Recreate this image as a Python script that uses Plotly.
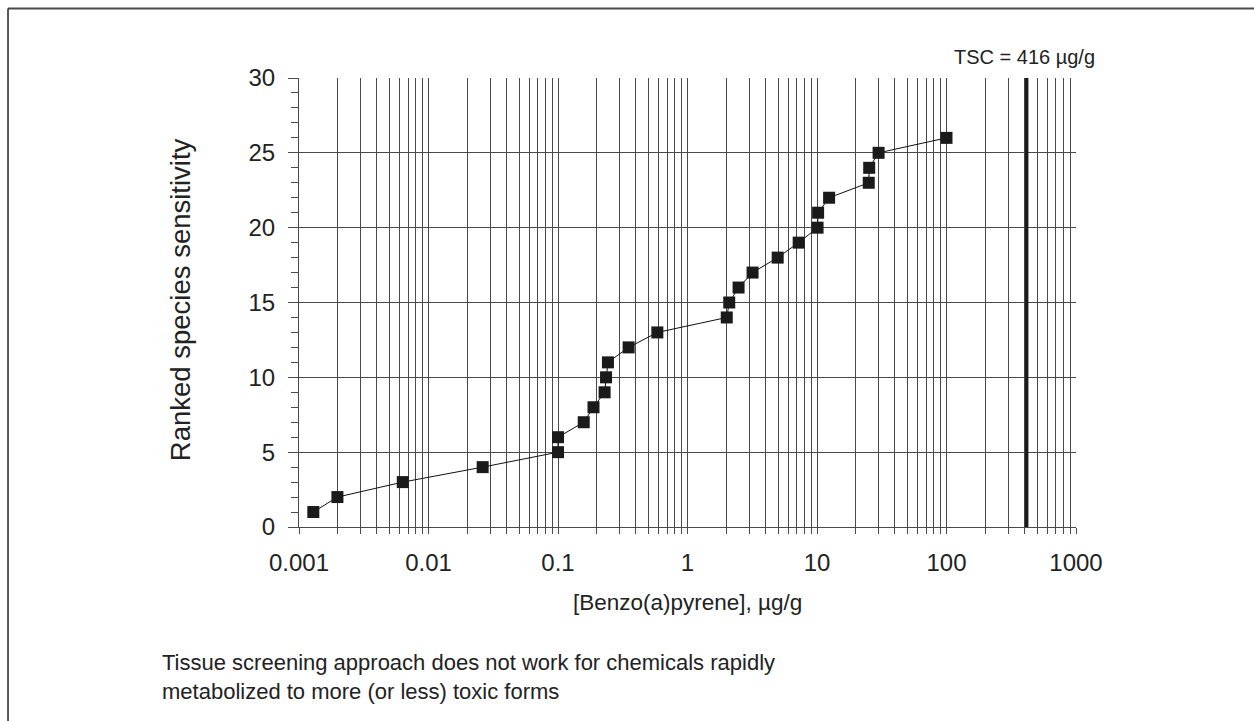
import plotly.graph_objects as go

# Data
concentration = [0.00129, 0.00198, 0.00633, 0.0262, 0.100, 0.100, 0.158, 0.188, 0.229, 0.235,
                 0.243, 0.351, 0.585, 2.01, 2.10, 2.48, 3.18, 4.97, 7.22, 10.1, 10.2, 12.4,
                 25.1, 25.3, 29.9, 100.0]
rank = list(range(1, 27))
tsc_value = 416

decades = [0.001, 0.01, 0.1, 1, 10, 100, 1000]
decade_labels = ["0.001", "0.01", "0.1", "1", "10", "100", "1000"]
multipliers = [1, 2, 3, 4, 5, 6, 7, 8, 9]

tickvals = []
ticktext = []
for d, lab in zip(decades, decade_labels):
    for m in multipliers:
        v = d * m
        if v > 1000.0001:
            continue
        tickvals.append(v)
        ticktext.append(lab if m == 1 else "")

FONT = "Liberation Sans, Arial, sans-serif"
GRID = "#4a4a4a"

fig = go.Figure()
fig.add_trace(go.Scatter(
    x=concentration, y=rank, mode="lines+markers",
    line=dict(color="#111111", width=1),
    marker=dict(symbol="square", size=12, color="#1a1a1a"),
    showlegend=False, hoverinfo="skip"))

fig.add_shape(type="line", xref="x", yref="y", x0=tsc_value, x1=tsc_value, y0=0, y1=30,
              line=dict(color="#1a1a1a", width=3.5))

# Frame lines (top and left)
fig.add_shape(type="line", xref="paper", yref="paper", x0=-0.3745, x1=1.3, y0=1.1548, y1=1.1548,
              line=dict(color="#4a4a4a", width=2))
fig.add_shape(type="line", xref="paper", yref="paper", x0=-0.3745, x1=-0.3745, y0=1.1548, y1=-0.5,
              line=dict(color="#222222", width=1.5))

fig.update_xaxes(type="log", range=[-3, 3], tickmode="array", tickvals=tickvals, ticktext=ticktext,
                 showgrid=True, gridcolor=GRID, gridwidth=1,
                 showline=True, linecolor=GRID, linewidth=1,
                 ticks="outside", ticklen=6, tickcolor=GRID, tickwidth=1, ticklabelstandoff=8,
                 tickfont=dict(family=FONT, size=24, color="#222222"), zeroline=False)
fig.update_yaxes(range=[0, 30], tickmode="linear", tick0=0, dtick=5,
                 showgrid=True, gridcolor=GRID, gridwidth=1,
                 showline=True, linecolor=GRID, linewidth=1,
                 ticks="outside", ticklen=10, tickcolor=GRID, tickwidth=1, ticklabelstandoff=8,
                 minor=dict(dtick=1, ticks="outside", ticklen=7, tickcolor=GRID, showgrid=False),
                 tickfont=dict(family=FONT, size=24, color="#222222"), zeroline=False)

annotations = [
    dict(text="TSC = 416 \u00b5g/g", x=0.934, y=1.0468, font=dict(size=20)),
    dict(text="[Benzo(a)pyrene], \u00b5g/g", x=0.5, y=-0.169, font=dict(size=22.5)),
    dict(text="Ranked species sensitivity", x=-0.153, y=0.5055, textangle=-90, font=dict(size=27.5)),
    dict(text="Tissue screening approach does not work for chemicals rapidly", x=-0.179, y=-0.3007,
         xanchor="left", font=dict(size=22)),
    dict(text="metabolized to more (or less) toxic forms", x=-0.179, y=-0.366,
         xanchor="left", font=dict(size=22)),
]
for a in annotations:
    a.setdefault("xanchor", "center")
    a["yanchor"] = "middle"
    a["xref"] = "paper"
    a["yref"] = "paper"
    a["showarrow"] = False
    a["font"] = dict(family=FONT, color="#222222", size=a["font"]["size"])
    fig.add_annotation(**a)

fig.update_layout(width=1254, height=721, margin=dict(l=299, r=178, t=78, b=194),
                  plot_bgcolor="white", paper_bgcolor="white", font=dict(family=FONT, color="#222222"))

fig.write_html("out.html", config={"displayModeBar": False},
               post_script="document.body.style.margin='0px';document.body.style.overflow='hidden';")
